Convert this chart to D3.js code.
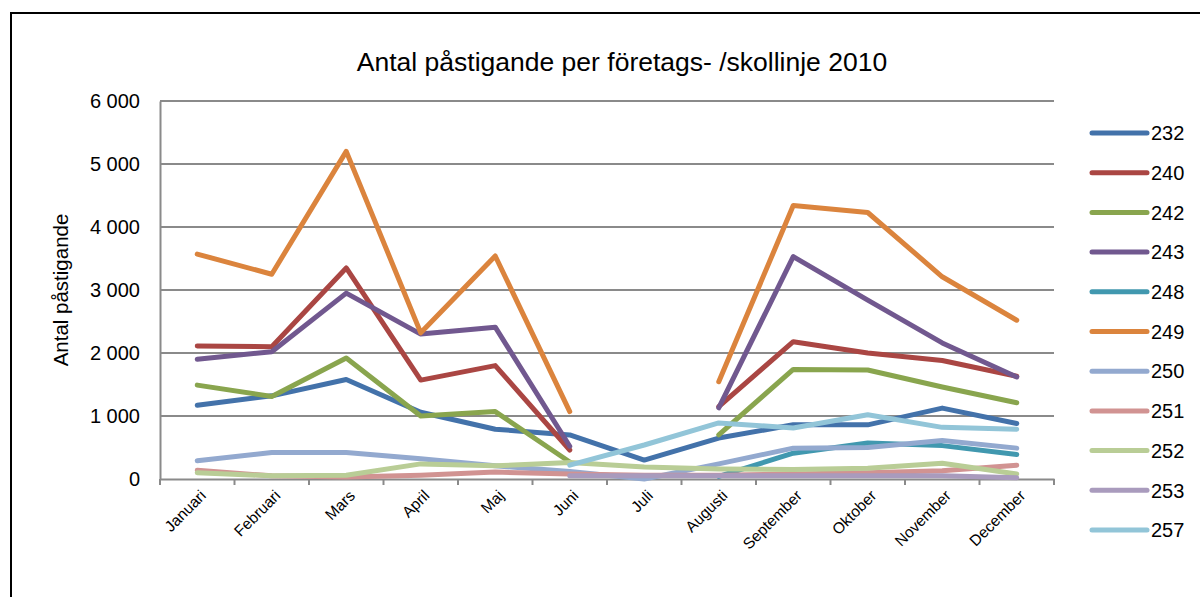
<!DOCTYPE html>
<html>
<head>
<meta charset="utf-8">
<script src="https://cdn.jsdelivr.net/npm/d3@7/dist/d3.min.js"></script>
<style>
  html, body { margin: 0; padding: 0; background: #fff; }
  svg { display: block; font-family: "Liberation Sans", Arial, sans-serif; }
</style>
</head>
<body>
<svg id="chart" width="1200" height="597"></svg>
<script>
// Månader (kategoriaxel)
const months = ["Januari", "Februari", "Mars", "April", "Maj", "Juni",
                "Juli", "Augusti", "September", "Oktober", "November", "December"];

// Linjenummer
const lines = ["232", "240", "242", "243", "248", "249", "250", "251", "252", "253", "257"];

// Påstigande per månad och linje (null = ingen trafik)
const s232 = [1170, 1320, 1580, 1060, 790, 700, 300, 650, 860, 860, 1125, 880];
const s240 = [2110, 2100, 3350, 1570, 1800, 460, null, 1150, 2180, 2000, 1880, 1630];
const s242 = [1490, 1310, 1920, 1000, 1070, 270, null, 700, 1740, 1730, 1460, 1210];
const s243 = [1900, 2020, 2950, 2300, 2410, 520, null, 1130, 3530, 2840, 2160, 1620];
const s248 = [null, null, null, null, null, null, null, 40, 410, 570, 530, 390];
const s249 = [3570, 3250, 5200, 2320, 3540, 1070, null, 1545, 4340, 4230, 3210, 2520];
const s250 = [290, 420, 420, 320, 210, 120, 0, 240, 490, 500, 610, 490];
const s251 = [140, 50, 30, 60, 110, 80, 60, 60, 80, 100, 130, 220];
const s252 = [100, 50, 60, 240, 210, 260, 190, 160, 150, 170, 250, 80];
const s253 = [null, null, null, null, null, 50, 50, 50, 50, 50, 50, 20];
const s257 = [null, null, null, null, null, 220, 540, 890, 810, 1020, 820, 790];

// Y-axelns skalsteg
const yTicks = [0, 1000, 2000, 3000, 4000, 5000, 6000];

const seriesValues = [s232, s240, s242, s243, s248, s249, s250, s251, s252, s253, s257];
const colors = ["#4372AA", "#AA4643", "#89A54E", "#71588F", "#4198AF", "#DB843D",
                "#93A9CF", "#D19392", "#B9CD96", "#A99BBD", "#92C5D8"];

const svg = d3.select("#chart");

// Ram runt diagrammet
svg.append("rect")
  .attr("x", 11).attr("y", 13)
  .attr("width", 1300).attr("height", 700)
  .attr("fill", "#fff").attr("stroke", "#000").attr("stroke-width", 2);

const plot = { left: 160, right: 1054, top: 101, bottom: 479 };

const x = d3.scaleBand().domain(months).range([plot.left, plot.right]).padding(0);
const y = d3.scaleLinear().domain([0, 6000]).range([plot.bottom, plot.top]);

const fmt = v => d3.format(",")(v).replace(/,/g, " ");

// Rubrik
svg.append("text")
  .attr("x", 622).attr("y", 71)
  .attr("text-anchor", "middle")
  .attr("font-size", 26.5)
  .attr("fill", "#000")
  .text("Antal påstigande per företags- /skollinje 2010");

// Stödlinjer
svg.append("g")
  .selectAll("line")
  .data(yTicks.filter(d => d > 0))
  .join("line")
  .attr("x1", plot.left).attr("x2", plot.right)
  .attr("y1", d => y(d)).attr("y2", d => y(d))
  .attr("stroke", "#8a8a8a").attr("stroke-width", 2);

// Y-axel
const yAxis = svg.append("g")
  .attr("transform", `translate(${plot.left},0)`)
  .call(d3.axisLeft(y).tickValues(yTicks).tickFormat(fmt).tickSize(0).tickPadding(20));
yAxis.select(".domain").attr("stroke", "#8a8a8a").attr("stroke-width", 2);
yAxis.selectAll("text").attr("font-size", 20).attr("fill", "#000")
  .attr("font-family", "Liberation Sans, Arial, sans-serif");

// Y-axelns titel
svg.append("text")
  .attr("transform", `translate(68,290) rotate(-90)`)
  .attr("text-anchor", "middle")
  .attr("font-size", 20.5)
  .attr("fill", "#000")
  .text("Antal påstigande");

// X-axel
const xAxis = svg.append("g")
  .attr("transform", `translate(0,${plot.bottom})`)
  .call(d3.axisBottom(x).tickSize(0).tickFormat(""));
xAxis.select(".domain").attr("stroke", "#8a8a8a").attr("stroke-width", 2);
xAxis.selectAll(".tick").remove();

// Skiljestreck mellan kategorier
const bounds = months.map(m => x(m)).concat([x(months[months.length - 1]) + x.bandwidth()]);
svg.append("g")
  .selectAll("line")
  .data(bounds)
  .join("line")
  .attr("x1", d => d).attr("x2", d => d)
  .attr("y1", plot.bottom).attr("y2", plot.bottom + 6)
  .attr("stroke", "#8a8a8a").attr("stroke-width", 2);

// Månadsetiketter
svg.append("g")
  .selectAll("text")
  .data(months)
  .join("text")
  .attr("transform", d => `translate(${x(d) + x.bandwidth() / 2 + 2},${plot.bottom + 10}) rotate(-45)`)
  .attr("text-anchor", "end")
  .attr("dy", "0.7em")
  .attr("font-size", 15.5)
  .attr("fill", "#000")
  .text(d => d);

// Linjer
const lineGen = d3.line()
  .defined(d => d != null)
  .x((d, i) => x(months[i]) + x.bandwidth() / 2)
  .y(d => y(d));

svg.append("g")
  .selectAll("path")
  .data(seriesValues)
  .join("path")
  .attr("d", d => lineGen(d))
  .attr("fill", "none")
  .attr("stroke", (d, i) => colors[i])
  .attr("stroke-width", 5)
  .attr("stroke-linejoin", "round")
  .attr("stroke-linecap", "round");

// Teckenförklaring
const legend = svg.append("g");
const legItems = legend.selectAll("g")
  .data(lines)
  .join("g")
  .attr("transform", (d, i) => `translate(1092,${133 + i * 39.7})`);
legItems.append("line")
  .attr("x1", 0).attr("x2", 55)
  .attr("stroke", (d, i) => colors[i])
  .attr("stroke-width", 5)
  .attr("stroke-linecap", "round");
legItems.append("text")
  .attr("x", 59).attr("dy", "0.36em")
  .attr("font-size", 20)
  .attr("fill", "#000")
  .text(d => d);
</script>
</body>
</html>
